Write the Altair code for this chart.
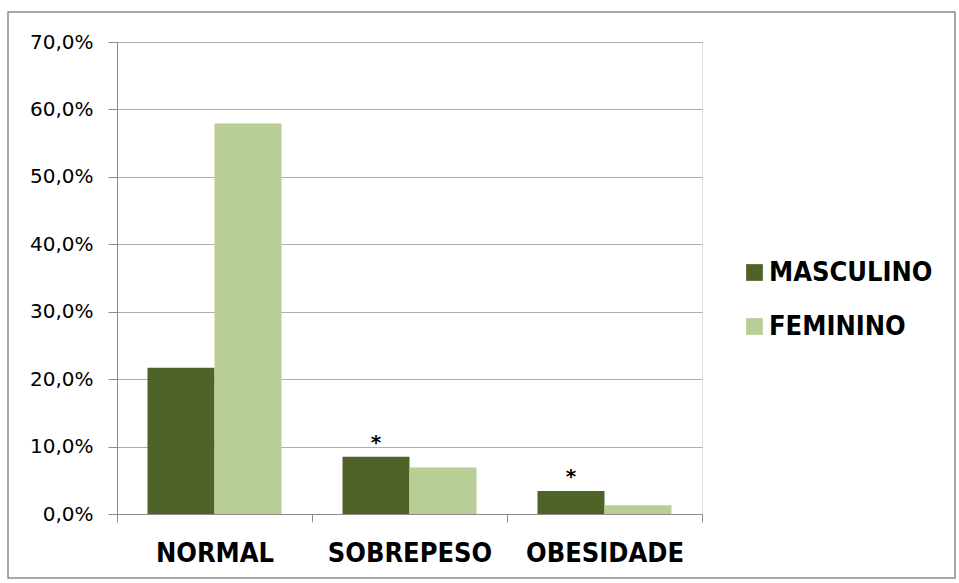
import altair as alt
import pandas as pd

categories = ["NORMAL", "SOBREPESO", "OBESIDADE"]
masculino = [0.217, 0.085, 0.034]
feminino = [0.579, 0.069, 0.013]
significance = ["", "*", "*"]
series = ["MASCULINO", "FEMININO"]
colors = ["#4F6228", "#B9CD96"]

rows = []
for c, m, f, s in zip(categories, masculino, feminino, significance):
    rows.append({"cat": c, "sexo": "MASCULINO", "valor": m, "sig": s})
    rows.append({"cat": c, "sexo": "FEMININO", "valor": f, "sig": ""})
df = pd.DataFrame(rows)

FONT = "DejaVu Sans"
BOLDFONT = "DejaVu Sans Condensed, DejaVu Sans"

x = alt.X("cat:N", sort=categories, title=None,
          scale=alt.Scale(paddingInner=0, paddingOuter=0),
          axis=alt.Axis(labelAngle=0, labelFontSize=27, labelFontWeight="bold",
                        labelColor="#000000", labelFont=BOLDFONT, labelPadding=18,
                        domainColor="#8C8C8C", tickColor="#8C8C8C", tickSize=8,
                        tickBand="extent", grid=False))
xoff = alt.XOffset("sexo:N", sort=series,
                   scale=alt.Scale(paddingInner=0, paddingOuter=0.455))

bars = alt.Chart(df).mark_bar().encode(
    x=x,
    xOffset=xoff,
    y=alt.Y("valor:Q", title=None,
            scale=alt.Scale(domain=[0, 0.7], nice=False),
            axis=alt.Axis(values=[0, 0.1, 0.2, 0.3, 0.4, 0.5, 0.6, 0.7],
                          labelExpr="replace(format(datum.value, '.1%'), '.', ',')",
                          labelFontSize=20, labelFont=FONT, labelColor="#000000",
                          labelPadding=15, tickSize=9, tickColor="#8C8C8C",
                          domainColor="#8C8C8C", gridColor="#ADADAD")),
    color=alt.Color("sexo:N", sort=series, title=None,
                    scale=alt.Scale(domain=series, range=colors),
                    legend=alt.Legend(orient="none", legendX=624, legendY=217,
                                      symbolType="square", symbolSize=280,
                                      symbolStrokeWidth=0, labelFontSize=27,
                                      labelFontWeight="bold", labelFont=BOLDFONT,
                                      labelColor="#000000", rowPadding=26,
                                      labelOffset=1, labelLimit=400)),
)

stars = alt.Chart(df).mark_text(dy=-14, fontSize=20, fontWeight="bold",
                                font=FONT, color="#000000").encode(
    x=alt.X("cat:N", sort=categories),
    xOffset=xoff,
    y="valor:Q",
    text="sig:N",
)

frame = alt.Chart(pd.DataFrame({"a": [1]})).mark_rect(
    fill=None, stroke="#8C8C8C", strokeWidth=1.5
).encode(x=alt.value(-109), x2=alt.value(838), y=alt.value(-30), y2=alt.value(536))

chart = alt.layer(frame, bars, stars).properties(
    width=585, height=472,
    autosize=alt.AutoSizeParams(type="none"),
    padding={"left": 117, "top": 42, "right": 257, "bottom": 69},
).configure_view(stroke=None).configure(background="#FFFFFF")

chart.save("out.html", embed_options={"renderer": "svg", "actions": False})
